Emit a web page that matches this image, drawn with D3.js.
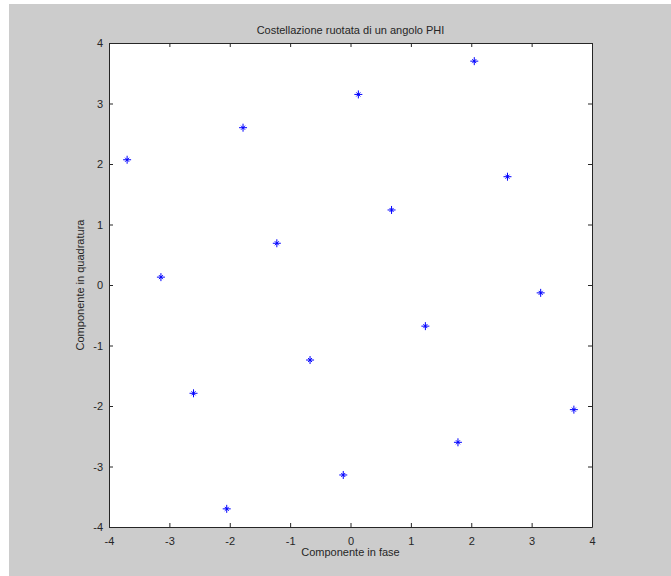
<!DOCTYPE html>
<html>
<head>
<meta charset="utf-8">
<script src="https://cdn.jsdelivr.net/npm/d3@7"></script>
<style>
  body { margin: 0; background: #ffffff; }
  svg text { font-family: "Liberation Sans", Arial, sans-serif; fill: #262626; }
</style>
</head>
<body>
<div id="chart"></div>
<script>
// constellation points
var inPhase    = [-3.70, -3.14, -2.60, -2.05, -1.78, -1.22, -0.67, -0.12, 0.13, 0.68, 1.24, 1.78, 2.05, 2.60, 3.15, 3.70];
var quadrature = [ 2.07,  0.13, -1.79, -3.70,  2.60,  0.69, -1.24, -3.14, 3.15, 1.24, -0.68, -2.60, 3.70, 1.79, -0.13, -2.06];
var xTicks = [-4, -3, -2, -1, 0, 1, 2, 3, 4];
var yTicks = [-4, -3, -2, -1, 0, 1, 2, 3, 4];

var W = 671, H = 576;
var margin = {top: 43, right: 79, bottom: 49, left: 109};
var width = W - margin.left - margin.right,
    height = H - margin.top - margin.bottom;

var svg = d3.select("#chart").append("svg")
    .attr("width", W)
    .attr("height", H);

// grey figure background
svg.append("rect")
    .attr("x", 9).attr("y", 4)
    .attr("width", W - 9).attr("height", H - 4)
    .attr("fill", "#cccccc");

var g = svg.append("g")
    .attr("transform", "translate(" + margin.left + "," + margin.top + ")");

var xScale = d3.scaleLinear().domain([-4, 4]).range([0, width]);
var yScale = d3.scaleLinear().domain([-4, 4]).range([height, 0]);

g.append("rect")
    .attr("width", width).attr("height", height)
    .attr("fill", "#ffffff");

var fmt = function(d) { return String(d); }; // plain hyphen minus like matlab

// axes, ticks pointing inward like matlab
var xAxis = g.append("g").attr("transform", "translate(0," + height + ")")
    .call(d3.axisBottom(xScale).tickValues(xTicks).tickFormat(fmt).tickSizeInner(-4).tickSizeOuter(0).tickPadding(10));
var xTop = g.append("g")
    .call(d3.axisTop(xScale).tickValues(xTicks).tickSizeInner(-4).tickSizeOuter(0).tickFormat(""));
var yAxis = g.append("g")
    .call(d3.axisLeft(yScale).tickValues(yTicks).tickFormat(fmt).tickSizeInner(-4).tickSizeOuter(0).tickPadding(6));
var yRight = g.append("g").attr("transform", "translate(" + width + ",0)")
    .call(d3.axisRight(yScale).tickValues(yTicks).tickSizeInner(-4).tickSizeOuter(0).tickFormat(""));

g.selectAll(".domain").attr("stroke", "#262626").attr("stroke-width", 1);
g.selectAll(".tick line").attr("stroke", "#262626");
g.selectAll(".tick text").attr("font-size", 11).attr("fill", "#262626");

// star markers
var arm = 4;
var pts = g.append("g").selectAll("g.pt")
    .data(d3.range(inPhase.length))
    .enter().append("g")
    .attr("class", "pt")
    .attr("transform", function(i) { return "translate(" + xScale(inPhase[i]) + "," + yScale(quadrature[i]) + ")"; });
pts.append("path")
    .attr("d", "M" + (-arm) + ",0H" + arm + "M0," + (-arm) + "V" + arm +
               "M-2,-2L2,2M-2,2L2,-2")
    .attr("stroke", "#0000ff")
    .attr("stroke-width", 1)
    .attr("fill", "none");

svg.append("text")
    .attr("x", margin.left + width / 2)
    .attr("y", 34)
    .attr("text-anchor", "middle")
    .attr("font-size", 11)
    .text("Costellazione ruotata di un angolo PHI");

svg.append("text")
    .attr("x", margin.left + width / 2)
    .attr("y", 556)
    .attr("text-anchor", "middle")
    .attr("font-size", 11)
    .text("Componente in fase");

svg.append("text")
    .attr("transform", "translate(84," + (margin.top + height / 2) + ") rotate(-90)")
    .attr("text-anchor", "middle")
    .attr("font-size", 11)
    .text("Componente in quadratura");
</script>
</body>
</html>
